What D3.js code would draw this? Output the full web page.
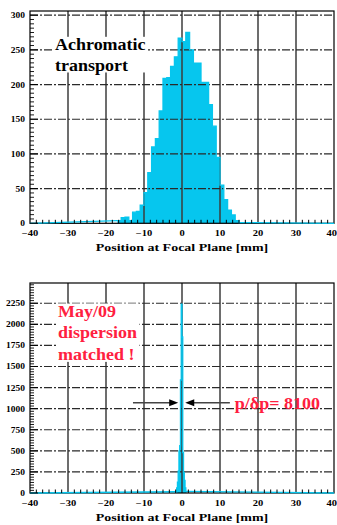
<!DOCTYPE html>
<html><head><meta charset="utf-8">
<script src="https://cdn.jsdelivr.net/npm/d3@7"></script>
<style>body{margin:0;background:#fff}svg{display:block}</style>
</head><body>
<script>
// ---------- data ----------
const topBinLow = [-17,-16,-15,-14,-13,-12,-11,-10,-9,-8,-7,-6,-5,-4,-3,-2,-1,0,1,2,3,4,5,6,7,8,9,10,11,12,13,14,15];
const topCounts = [4,8,9,4,16,17,26,44,73,110,122,162,209,210,226,240,267,262,275,250,231,231,203,203,171,140,95,55,34,19,12,4,1];
const topBinWidth = 1;

const botBinLow = [-1.6,-1.4,-1.2,-1.0,-0.8,-0.6,-0.4,-0.2,0.0,0.2,0.4,0.6,0.8,1.0];
const botCounts = [15,60,130,260,500,560,1340,2240,1850,480,240,150,60,20];
const botBinWidth = 0.2;

const xTickValues = [-40,-30,-20,-10,0,10,20,30,40];
const xTickLabels = ["\u221240","\u221230","\u221220","\u221210","0","10","20","30","40"];
const topYTicks = [0,50,100,150,200,250,300];
const botYTicks = [0,250,500,750,1000,1250,1500,1750,2000,2250];
const xTitle = "Position at Focal Plane [mm]";
const topNote = ["Achromatic","transport"];
const botNote = ["May/09","dispersion","matched !"];
const resolutionLabel = "p/\u03b4p= 8100";

// ---------- drawing ----------
const W = 337, H = 525;
const FONT = "Liberation Serif";
const svg = d3.select("body").append("svg").attr("width", W).attr("height", H);

const HIST = "#06c6ee";
const LBL_SY = 0.78;

function squashText(g, x, y, str, size, anchor, color, sy) {
  const t = g.append("g").attr("transform", `translate(${x},${y}) scale(1,${sy})`);
  t.append("text").attr("text-anchor", anchor).attr("font-size", size)
    .attr("font-family", FONT).attr("font-weight", "bold").attr("fill", color).text(str);
  return t;
}

function panel(cfg) {
  const g = svg.append("g");
  const x = d3.scaleLinear().domain([-40, 40]).range([30, 334]);
  const y = d3.scaleLinear().domain([0, cfg.yMax]).range([cfg.y0, cfg.y1]);

  const pts = [];
  cfg.low.forEach((b, i) => { pts.push([b, cfg.counts[i]]); pts.push([b + cfg.width, cfg.counts[i]]); });
  const area = d3.area().x(d => x(d[0])).y0(y(0)).y1(d => y(d[1]));
  const line = d3.line().x(d => x(d[0])).y(d => y(d[1]));
  g.append("path").attr("d", area(pts)).attr("fill", HIST);

  g.selectAll(".vg").data(xTickValues.filter(v => v > -40 && v < 40)).join("line")
    .attr("x1", d => x(d)).attr("x2", d => x(d)).attr("y1", cfg.y1).attr("y2", cfg.y0)
    .attr("stroke", "#3c3c3c").attr("stroke-width", 1.5);
  g.selectAll(".hg").data(cfg.yTicks.filter(v => v > 0)).join("line")
    .attr("x1", x(-40)).attr("x2", x(40)).attr("y1", d => y(d)).attr("y2", d => y(d))
    .attr("stroke", "#2a2a2a").attr("stroke-width", 1.2).attr("stroke-dasharray", "8,2,2,2");

  g.append("rect").attr("x", x(-40)).attr("y", cfg.y1).attr("width", x(40) - x(-40))
    .attr("height", cfg.y0 - cfg.y1).attr("fill", "none").attr("stroke", "#000").attr("stroke-width", 1.2);

  g.append("path").attr("d", line([[-40, 0], ...pts, [40, 0]])).attr("fill", "none")
    .attr("stroke", HIST).attr("stroke-width", 1.3);

  const xMinor = [];
  for (let i = 0; i < xTickValues.length - 1; i++) {
    const a = xTickValues[i], b = xTickValues[i + 1];
    for (let k = 1; k < 6; k++) xMinor.push(a + (b - a) * k / 6);
  }
  g.selectAll(".xm").data(xMinor).join("line")
    .attr("x1", d => x(d)).attr("x2", d => x(d)).attr("y1", cfg.y0).attr("y2", cfg.y0 - 3.5)
    .attr("stroke", "#000").attr("stroke-width", 1);
  const yMinor = [];
  const step = cfg.yTicks[1] - cfg.yTicks[0];
  for (let v = 0; v <= cfg.yMax; v += step / 8) if (Math.abs(v / step - Math.round(v / step)) > 1e-6) yMinor.push(v);
  g.selectAll(".ym").data(yMinor).join("line")
    .attr("x1", x(-40)).attr("x2", x(-40) + 4).attr("y1", d => y(d)).attr("y2", d => y(d))
    .attr("stroke", "#000").attr("stroke-width", 0.9);
  g.selectAll(".yM").data(cfg.yTicks).join("line")
    .attr("x1", x(-40)).attr("x2", x(-40) + 8).attr("y1", d => y(d)).attr("y2", d => y(d))
    .attr("stroke", "#000").attr("stroke-width", 1);

  xTickValues.forEach((v, i) => {
    const last = i === xTickValues.length - 1;
    squashText(g, last ? x(v) + 3 : x(v), cfg.y0 + 13, xTickLabels[i], 10.5, last ? "end" : "middle", "#000", LBL_SY);
  });
  cfg.yTicks.forEach(v => squashText(g, x(-40) - 5, y(v) + 3, String(v), 9.5, "end", "#000", LBL_SY));

  squashText(g, x(0), cfg.titleY, xTitle, 14, "middle", "#000", LBL_SY);

  const note = g.append("g");
  cfg.note.forEach((s, i) => squashText(note, cfg.noteX, cfg.noteY + i * cfg.noteDy, s, 18, "start", cfg.noteColor, 0.9));
  const bb = note.node().getBBox();
  note.insert("rect", ":first-child").attr("x", bb.x - 2).attr("y", bb.y + 1)
    .attr("width", bb.width + 4).attr("height", bb.height - 3).attr("fill", "#fff");
  return { g, x, y };
}

const P1 = panel({ low: topBinLow, counts: topCounts, width: topBinWidth, yMax: 306, y0: 223.3, y1: 11,
  yTicks: topYTicks, titleY: 250.5, note: topNote, noteX: 55, noteY: 50, noteDy: 20.7, noteColor: "#000" });
const P2 = panel({ low: botBinLow, counts: botCounts, width: botBinWidth, yMax: 2490, y0: 493, y1: 283,
  yTicks: botYTicks, titleY: 521, note: botNote, noteX: 58, noteY: 316.7, noteDy: 21.7, noteColor: "#ff2040" });

{
  const { g, x, y } = P2;
  const ay = y(1070);
  const arrow = (from, to) => {
    const x0 = x(from), x1 = x(to), dir = Math.sign(x1 - x0);
    g.append("line").attr("x1", x0).attr("x2", x1 - dir * 6).attr("y1", ay).attr("y2", ay)
      .attr("stroke", "#444").attr("stroke-width", 1.5);
    g.append("path").attr("d", `M${x1},${ay} L${x1 - dir * 9},${ay - 3.5} L${x1 - dir * 9},${ay + 3.5} Z`).attr("fill", "#000");
  };
  arrow(-12.9, -1.0);
  arrow(12.6, 0.85);
  squashText(g, x(13.9), y(1000), resolutionLabel, 18, "start", "#ff2040", 0.9);
}
</script>
</body></html>
